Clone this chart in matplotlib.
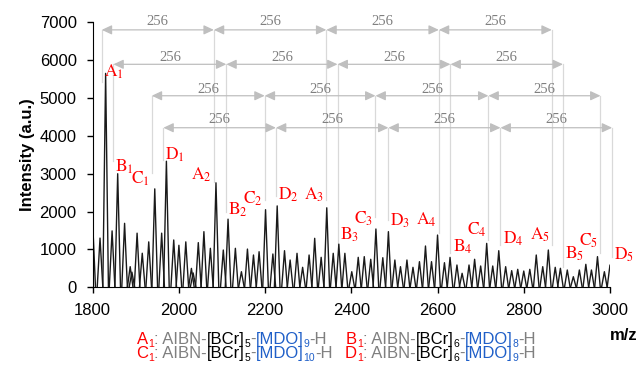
import numpy as np
import matplotlib.pyplot as plt

plt.rcParams['font.family'] = 'Liberation Sans'
plt.rcParams['mathtext.fontset'] = 'stix'

## spectrum peaks (m/z, intensity)
peak_mz = [1800, 1817, 1830, 1845, 1858, 1874, 1887, 1891, 1903, 1915, 1930, 1944,
           1960, 1971, 1988, 2000, 2016, 2029, 2033, 2045, 2058, 2073, 2086, 2103,
           2114, 2131, 2145, 2159, 2173, 2186, 2201, 2218, 2228, 2245, 2258, 2274,
           2287, 2302, 2315, 2330, 2343, 2358, 2371, 2385, 2401, 2416, 2430, 2445,
           2457, 2473, 2486, 2501, 2514, 2529, 2543, 2558, 2572, 2586, 2600, 2616,
           2629, 2645, 2657, 2673, 2686, 2700, 2714, 2728, 2742, 2758, 2772, 2786,
           2800, 2814, 2829, 2844, 2857, 2873, 2885, 2901, 2915, 2929, 2944, 2957,
           2971, 2987, 3000]
peak_int = [1700, 1300, 5650, 1490, 3000, 1690, 545, 400, 1430, 900, 1200, 2600,
            1430, 3330, 1250, 1110, 1200, 500, 380, 1180, 1470, 1030, 2760, 985,
            1800, 1030, 412, 1010, 853, 940, 2050, 880, 2150, 967, 721, 898,
            528, 853, 1294, 792, 2100, 898, 1140, 898, 412, 792, 810, 740,
            1540, 782, 1470, 721, 545, 721, 528, 677, 1091, 677, 1380, 650,
            790, 589, 370, 589, 740, 563, 1160, 563, 967, 545, 440, 475,
            430, 475, 853, 545, 985, 528, 502, 457, 280, 457, 607, 457,
            810, 412, 589]

## peak series and their bracket lines
series = ['A', 'B', 'C', 'D']
a_lines = [1821, 2081, 2342, 2603, 2865]
b_lines = [1848, 2110, 2368, 2630, 2891]
c_lines = [1937, 2199, 2456, 2718, 2978]
d_lines = [1964, 2225, 2486, 2746, 3005]
repeat_unit = 256

## composition of the first peak of each series
bcr_n = [5, 6, 5, 6]
mdo_n = [9, 8, 10, 9]

# layout of the annotations
row_y = [6800, 5890, 5060, 4215]
row_text_y = [7025, 6075, 5230, 4445]
label_y = [[5705, 2966, 2438, 1778, 1381],
           [3185, 2042, 1381, 1072, 898],
           [2860, 2350, 1822, 1513, 1231],
           [3495, 2438, 1752, 1294, 853]]
line_end = [[5430, 2790, 2306, 1434, 1117],
            [3340, 2000, 1117, 905, 545],
            [3010, 2300, 1865, 1250, 905],
            [3362, 2400, 1778, 1117, 800]]

red = '#ff0000'
gray = '#7f7f7f'
blue = '#1f5fc8'

fig = plt.figure(figsize=(6.41, 3.74), dpi=100)
ax = fig.add_axes([0.1446, 0.2318, 0.807, 0.7086])

w = 6.5
for mz, h in zip(peak_mz, peak_int):
    ax.plot([mz - w, mz, mz + w], [0, h, 0], color='#1a1a1a', lw=1.0)

all_lines = [a_lines, b_lines, c_lines, d_lines]
for i, s in enumerate(series):
    xs = all_lines[i]
    for k, x in enumerate(xs):
        ax.plot([x, x], [line_end[i][k], row_y[i]], color='#d9d9d9', lw=0.9,
                clip_on=False, zorder=1)
        left = (s in ('B', 'D')) or (s == 'A' and k == 0)
        ax.annotate(r'$\mathrm{%s}_{%d}$' % (s, k + 1), xy=(x, label_y[i][k]),
                    xytext=(1.5 if left else -1.5, 0), textcoords='offset points',
                    ha='left' if left else 'right', va='center',
                    color=red, fontsize=12.5, annotation_clip=False)
    for k in range(len(xs) - 1):
        ax.annotate('', xy=(xs[k + 1], row_y[i]), xytext=(xs[k], row_y[i]),
                    arrowprops=dict(arrowstyle='<|-|>,head_length=0.6,head_width=0.28',
                                    color='#bfbfbf', lw=0.9, shrinkA=0, shrinkB=0,
                                    mutation_scale=10),
                    annotation_clip=False)
        ax.text((xs[k] + xs[k + 1]) / 2, row_text_y[i], str(repeat_unit),
                ha='center', va='center', color=gray, fontsize=10.5,
                family='Liberation Serif', clip_on=False)

ax.set_xlim(1800, 3000)
ax.set_ylim(0, 7000)
ax.set_xticks(np.arange(1800, 3001, 200))
ax.set_yticks(np.arange(0, 7001, 1000))
ax.spines['top'].set_visible(False)
ax.spines['right'].set_visible(False)
ax.tick_params(direction='out', length=4.5, width=1, labelsize=12, pad=7)
ax.set_ylabel('Intensity (a.u.)', fontsize=12, fontweight='bold')
ax.yaxis.set_label_coords(-0.1115, 0.5)

fig.text(624 / 641, 34 / 374, 'm/z', ha='center', va='baseline',
         fontsize=12, fontweight='bold')

## legend lines below the plot, built piece by piece
renderer = fig.canvas.get_renderer()

def draw_pieces(x0, y0, pieces):
    x = x0
    for txt, color, sub in pieces:
        t = fig.text(x / 641, (y0 - (3 if sub else 0)) / 374, txt, color=color,
                     fontsize=7.5 if sub else 12, ha='left', va='baseline')
        x += t.get_window_extent(renderer).width

starts = [(137, 30), (346, 30), (136, 15.7), (345, 15.7)]
for i, s in enumerate(series):
    pieces = [(s, red, False), ('1', red, True), (': AIBN-', gray, False),
              ('[BCr]', 'black', False), (str(bcr_n[i]), 'black', True),
              ('-', gray, False), ('[MDO]', blue, False), (str(mdo_n[i]), blue, True),
              ('-H', gray, False)]
    draw_pieces(starts[i][0], starts[i][1], pieces)

fig.savefig('out.png', dpi=100)
